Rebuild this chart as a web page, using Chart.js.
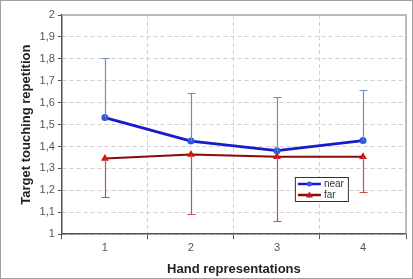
<!DOCTYPE html>
<html>
<head>
<meta charset="utf-8">
<script src="https://cdn.jsdelivr.net/npm/chart.js@4/dist/chart.umd.min.js"></script>
<style>
  html, body { margin: 0; padding: 0; background: #fff; }
  #wrap { position: relative; width: 411px; height: 277px; border: 1px solid #a0a0a0; }
</style>
</head>
<body>
<div id="wrap"><canvas id="chart" width="411" height="277"></canvas></div>
<script>
// data
const categories = ['1', '2', '3', '4'];
const nearValues = [1.532, 1.425, 1.381, 1.427];
const nearUpper = [1.805, 1.644, 1.625, 1.66];
const farValues = [1.345, 1.364, 1.353, 1.353];
const farLower = [1.171, 1.093, 1.061, 1.193];

const FONT = 'Liberation Sans, Arial, sans-serif';

// one-sided error bars drawn through the y scale
const errorBars = {
  id: 'errorBars',
  afterDatasetsDraw(chart) {
    const ctx = chart.ctx;
    const x = chart.scales.x, y = chart.scales.y;
    const draw = (vals, ends, color) => {
      ctx.save();
      ctx.strokeStyle = color;
      ctx.lineWidth = 1.2;
      vals.forEach((v, i) => {
        const px = Math.round(x.getPixelForValue(i)) + 0.5;
        const p0 = y.getPixelForValue(v);
        const p1 = Math.round(y.getPixelForValue(ends[i])) + 0.5;
        ctx.beginPath();
        ctx.moveTo(px, p0);
        ctx.lineTo(px, p1);
        ctx.moveTo(px - 4, p1);
        ctx.lineTo(px + 4, p1);
        ctx.stroke();
      });
      ctx.restore();
    };
    draw(nearValues, nearUpper, '#6d8fc6');
    draw(farValues, farLower, '#c9504f');
  }
};

// legend box inside the plot area
const boxLegend = {
  id: 'boxLegend',
  afterDraw(chart) {
    const ctx = chart.ctx;
    const a = chart.chartArea;
    const bx = a.left + 233, by = a.top + 162, bw = 53, bh = 24;
    ctx.save();
    ctx.fillStyle = '#fff';
    ctx.fillRect(bx, by, bw, bh);
    ctx.strokeStyle = '#333';
    ctx.lineWidth = 1;
    ctx.strokeRect(bx + 0.5, by + 0.5, bw, bh);
    const rows = [
      { label: 'near', line: '#1a1acc', mark: '#3355e0', shape: 'circle' },
      { label: 'far', line: '#8b0a0a', mark: '#cc1111', shape: 'triangle' }
    ];
    ctx.font = '10px ' + FONT;
    ctx.textBaseline = 'middle';
    rows.forEach((r, i) => {
      const cy = by + 7 + i * 11;
      ctx.strokeStyle = r.line;
      ctx.lineWidth = 2.5;
      ctx.beginPath();
      ctx.moveTo(bx + 3, cy);
      ctx.lineTo(bx + 26, cy);
      ctx.stroke();
      ctx.fillStyle = r.mark;
      ctx.beginPath();
      if (r.shape === 'circle') {
        ctx.arc(bx + 14.5, cy, 2.5, 0, Math.PI * 2);
      } else {
        ctx.moveTo(bx + 14.5, cy - 3.5);
        ctx.lineTo(bx + 18, cy + 2.5);
        ctx.lineTo(bx + 11, cy + 2.5);
        ctx.closePath();
      }
      ctx.fill();
      ctx.fillStyle = '#333';
      ctx.fillText(r.label, bx + 29, cy + 0.5);
    });
    ctx.restore();
  }
};

// light top/right frame of plot area
const plotFrame = {
  id: 'plotFrame',
  beforeDatasetsDraw(chart) {
    const ctx = chart.ctx, a = chart.chartArea;
    ctx.save();
    ctx.strokeStyle = '#a8a8a8';
    ctx.lineWidth = 1.5;
    ctx.beginPath();
    ctx.moveTo(a.left, a.top);
    ctx.lineTo(a.right, a.top);
    ctx.lineTo(a.right, a.bottom);
    ctx.stroke();
    ctx.restore();
  }
};

new Chart(document.getElementById('chart'), {
  type: 'line',
  data: {
    labels: categories,
    datasets: [
      {
        label: 'near',
        data: nearValues,
        borderColor: '#1a1acc',
        backgroundColor: '#3355e0',
        borderWidth: 2.8,
        pointStyle: 'circle',
        pointRadius: 3.5,
        pointBorderWidth: 0,
        tension: 0
      },
      {
        label: 'far',
        data: farValues,
        borderColor: '#8b0a0a',
        backgroundColor: '#cc1111',
        borderWidth: 2,
        pointStyle: 'triangle',
        pointRadius: 4.5,
        pointBorderWidth: 0,
        tension: 0
      }
    ]
  },
  options: {
    responsive: false,
    animation: false,
    layout: { padding: { left: 18, right: 6, top: 14, bottom: 1 } },
    plugins: {
      legend: { display: false },
      tooltip: { enabled: false }
    },
    scales: {
      x: {
        offset: true,
        grid: {
          offset: true,
          color: '#cfcfcf',
          tickColor: '#555',
          tickLength: 5
        },
        border: { color: '#555', width: 1.5, dash: [4, 3] },
        ticks: { color: '#555', font: { family: FONT, size: 11 }, padding: 2 },
        title: {
          display: true,
          text: 'Hand representations',
          color: '#222',
          font: { family: FONT, size: 13, weight: 'bold' },
          padding: { top: 5, bottom: 0 }
        }
      },
      y: {
        min: 1,
        max: 2,
        ticks: {
          stepSize: 0.1,
          color: '#555',
          font: { family: FONT, size: 11 },
          padding: 3,
          callback: v => (Math.round(v * 10) / 10).toString().replace('.', ',')
        },
        grid: {
          color: '#cfcfcf',
          tickColor: '#555',
          tickLength: 4
        },
        border: { color: '#555', width: 1.5, dash: [4, 3] },
        title: {
          display: true,
          text: 'Target touching repetition',
          color: '#222',
          font: { family: FONT, size: 13, weight: 'bold' },
          padding: { top: 0, bottom: 2 }
        }
      }
    }
  },
  plugins: [plotFrame, errorBars, boxLegend]
});
</script>
</body>
</html>
